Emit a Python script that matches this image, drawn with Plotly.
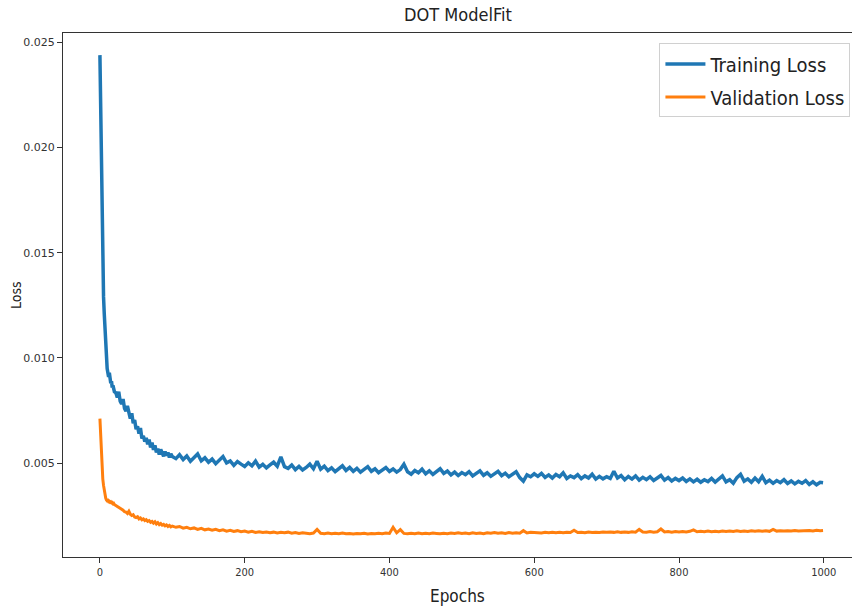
import plotly.graph_objects as go

epochs = list(range(0, 21)) + list(range(22, 101, 2)) + list(range(105, 1000, 5)) + [999]

train_loss = [
    0.02438, 0.0215, 0.0189, 0.0164, 0.0140, 0.0129, 0.0121, 0.0112, 0.0104, 0.0098,
    0.0095, 0.0093, 0.0091, 0.0093, 0.0090, 0.0088, 0.0089, 0.0086, 0.0087, 0.0085, 0.0084,
    # 22-100 step 2
    0.00835, 0.00812, 0.00840, 0.00795, 0.00782, 0.00805, 0.00760, 0.00748, 0.00772, 0.00731,
    0.00712, 0.00738, 0.00690, 0.00705, 0.00662, 0.00675, 0.00641, 0.00668, 0.00618, 0.00630,
    0.00603, 0.00621, 0.00590, 0.00612, 0.00575, 0.00598, 0.00564, 0.00585, 0.00552, 0.00570,
    0.00541, 0.00566, 0.00548, 0.00533, 0.00556, 0.00537, 0.00551, 0.00528, 0.00545, 0.00532,
    # 105-995 step 5
    0.00522, 0.00541, 0.00518, 0.00535, 0.00510, 0.00528, 0.00544, 0.00512, 0.00526, 0.00505,
    0.00520, 0.00498, 0.00515, 0.00532, 0.00502, 0.00511, 0.00490, 0.00508, 0.00496, 0.00485,
    0.00502, 0.00488, 0.00510, 0.00482, 0.00495, 0.00478, 0.00492, 0.00505, 0.00486, 0.00530,
    0.00484, 0.00476, 0.00492, 0.00470, 0.00485, 0.00468, 0.00480, 0.00496, 0.00474, 0.00510,
    0.00472, 0.00486, 0.00465, 0.00478, 0.00460, 0.00475, 0.00488, 0.00466, 0.00480, 0.00462,
    0.00476, 0.00458, 0.00470, 0.00484, 0.00462, 0.00474, 0.00455, 0.00468, 0.00480, 0.00461,
    0.00473, 0.00458, 0.00470, 0.00495, 0.00460, 0.00448, 0.00466, 0.00455, 0.00472, 0.00450,
    0.00464, 0.00447, 0.00460, 0.00474, 0.00452, 0.00463, 0.00445, 0.00458, 0.00442, 0.00456,
    0.00446, 0.00460, 0.00440, 0.00452, 0.00464, 0.00443, 0.00455, 0.00438, 0.00450, 0.00462,
    0.00441, 0.00453, 0.00436, 0.00448, 0.00460, 0.00432, 0.00415, 0.00445, 0.00436, 0.00450,
    0.00438, 0.00452, 0.00433, 0.00445, 0.00430, 0.00447, 0.00436, 0.00455, 0.00428, 0.00440,
    0.00432, 0.00446, 0.00427, 0.00440, 0.00430, 0.00448, 0.00425, 0.00438, 0.00426, 0.00436,
    0.00428, 0.00462, 0.00430, 0.00442, 0.00422, 0.00437, 0.00425, 0.00440, 0.00420, 0.00433,
    0.00422, 0.00436, 0.00418, 0.00430, 0.00442, 0.00420, 0.00432, 0.00416, 0.00428, 0.00418,
    0.00430, 0.00414, 0.00426, 0.00412, 0.00424, 0.00410, 0.00422, 0.00413, 0.00428, 0.00411,
    0.00425, 0.00440, 0.00412, 0.00422, 0.00405, 0.00432, 0.00448, 0.00415, 0.00426, 0.00410,
    0.00430, 0.00412, 0.00438, 0.00408, 0.00420, 0.00405, 0.00418, 0.00408, 0.00422, 0.00404,
    0.00416, 0.00402, 0.00414, 0.00405, 0.00418, 0.00400, 0.00412, 0.00398, 0.00410,
    # 999
    0.00408,
]

val_loss = [
    0.00712, 0.00620, 0.00530, 0.00465, 0.00425, 0.00395, 0.00370, 0.00350, 0.00335, 0.00326,
    0.00322, 0.00324, 0.00318, 0.00320, 0.00315, 0.00317, 0.00312, 0.00314, 0.00308, 0.00310, 0.00304,
    # 22-100 step 2
    0.00300, 0.00296, 0.00290, 0.00286, 0.00280, 0.00277, 0.00270, 0.00268, 0.00262, 0.00272,
    0.00258, 0.00252, 0.00256, 0.00245, 0.00242, 0.00246, 0.00236, 0.00240, 0.00232, 0.00236,
    0.00228, 0.00232, 0.00224, 0.00228, 0.00220, 0.00224, 0.00216, 0.00222, 0.00212, 0.00218,
    0.00209, 0.00214, 0.00206, 0.00210, 0.00203, 0.00207, 0.00200, 0.00205, 0.00198, 0.00202,
    # 105-995 step 5
    0.00196, 0.00200, 0.00192, 0.00196, 0.00189, 0.00193, 0.00186, 0.00191, 0.00184, 0.00188,
    0.00182, 0.00186, 0.00180, 0.00184, 0.00178, 0.00182, 0.00176, 0.00180, 0.00175, 0.00178,
    0.00173, 0.00177, 0.00172, 0.00175, 0.00171, 0.00174, 0.00170, 0.00173, 0.00169, 0.00172,
    0.00170, 0.00173, 0.00168, 0.00171, 0.00167, 0.00170, 0.00168, 0.00166, 0.00169, 0.00186,
    0.00168, 0.00166, 0.00169, 0.00165, 0.00168, 0.00166, 0.00169, 0.00165, 0.00167, 0.00164,
    0.00167, 0.00165, 0.00168, 0.00164, 0.00167, 0.00165, 0.00168, 0.00166, 0.00169, 0.00167,
    0.00196, 0.00170, 0.00185, 0.00167, 0.00165, 0.00168, 0.00166, 0.00169, 0.00165, 0.00168,
    0.00166, 0.00169, 0.00167, 0.00165, 0.00168, 0.00166, 0.00169, 0.00167, 0.00170, 0.00167,
    0.00169, 0.00166, 0.00170, 0.00167, 0.00169, 0.00166, 0.00170, 0.00168, 0.00171, 0.00168,
    0.00170, 0.00167, 0.00171, 0.00168, 0.00170, 0.00168, 0.00180, 0.00169, 0.00172, 0.00170,
    0.00171, 0.00169, 0.00172, 0.00170, 0.00173, 0.00170, 0.00172, 0.00170, 0.00173, 0.00171,
    0.00182, 0.00171, 0.00173, 0.00170, 0.00174, 0.00171, 0.00173, 0.00171, 0.00174, 0.00172,
    0.00174, 0.00172, 0.00175, 0.00172, 0.00174, 0.00172, 0.00175, 0.00173, 0.00186, 0.00174,
    0.00173, 0.00176, 0.00173, 0.00175, 0.00188, 0.00174, 0.00176, 0.00173, 0.00176, 0.00174,
    0.00176, 0.00174, 0.00177, 0.00184, 0.00175, 0.00177, 0.00175, 0.00178, 0.00175, 0.00177,
    0.00175, 0.00178, 0.00176, 0.00178, 0.00176, 0.00179, 0.00176, 0.00178, 0.00176, 0.00179,
    0.00177, 0.00179, 0.00177, 0.00180, 0.00177, 0.00186, 0.00178, 0.00180, 0.00178, 0.00180,
    0.00178, 0.00181, 0.00178, 0.00180, 0.00179, 0.00181, 0.00179, 0.00182, 0.00180,
    # 999
    0.00181,
]

y_ticks = [0.005, 0.010, 0.015, 0.020, 0.025]
x_ticks = [0, 200, 400, 600, 800, 1000]

FONT = "DejaVu Sans Condensed, DejaVu Sans, sans-serif"

fig = go.Figure()
fig.add_trace(go.Scatter(x=epochs, y=train_loss, mode="lines", name="Training Loss",
                         legendgroup="a", line=dict(color="#1f77b4", width=3.5)))
fig.add_trace(go.Scatter(x=epochs, y=val_loss, mode="lines", name="Validation Loss",
                         legendgroup="b", line=dict(color="#ff7f0e", width=3)))

fig.update_layout(
    width=853, height=610,
    margin=dict(l=63, r=1, t=33, b=53),
    paper_bgcolor="white", plot_bgcolor="white",
    font=dict(family=FONT, color="#222222"),
    showlegend=True,
    legend=dict(x=0.998, y=0.98, xanchor="right", yanchor="top",
                bordercolor="#d0d0d0", borderwidth=1, bgcolor="white",
                font=dict(size=20, family=FONT, color="#222222"),
                tracegroupgap=4, itemwidth=40),
    xaxis=dict(range=[-51, 1039], tickvals=x_ticks, ticks="outside", ticklen=5,
               tickcolor="#333333", showline=True, linecolor="#333333", linewidth=1.3,
               mirror=True, showgrid=False, zeroline=False,
               tickfont=dict(size=11, family=FONT, color="#333333")),
    yaxis=dict(range=[0.00055, 0.02543], tickvals=y_ticks, tickformat=".3f",
               ticks="outside", ticklen=5, tickcolor="#333333", showline=True,
               linecolor="#333333", linewidth=1.3, mirror=False, showgrid=False,
               zeroline=False, tickfont=dict(size=11, family="DejaVu Sans, sans-serif", color="#333333")),
    annotations=[
        dict(text="DOT ModelFit", x=0.5, y=1, yanchor="bottom", yshift=6, xref="paper", yref="paper",
             showarrow=False, font=dict(size=18, family=FONT, color="#222222")),
        dict(text="Epochs", x=0.5, xref="paper", y=0, yref="paper", yshift=-51,
             showarrow=False, font=dict(size=17, family=FONT, color="#222222")),
        dict(text="Loss", x=0, xref="paper", xshift=-57, y=0.5, yref="paper", textangle=-90,
             showarrow=False, font=dict(size=14, family=FONT, color="#222222")),
    ],
)

fig.write_html("out.html")
